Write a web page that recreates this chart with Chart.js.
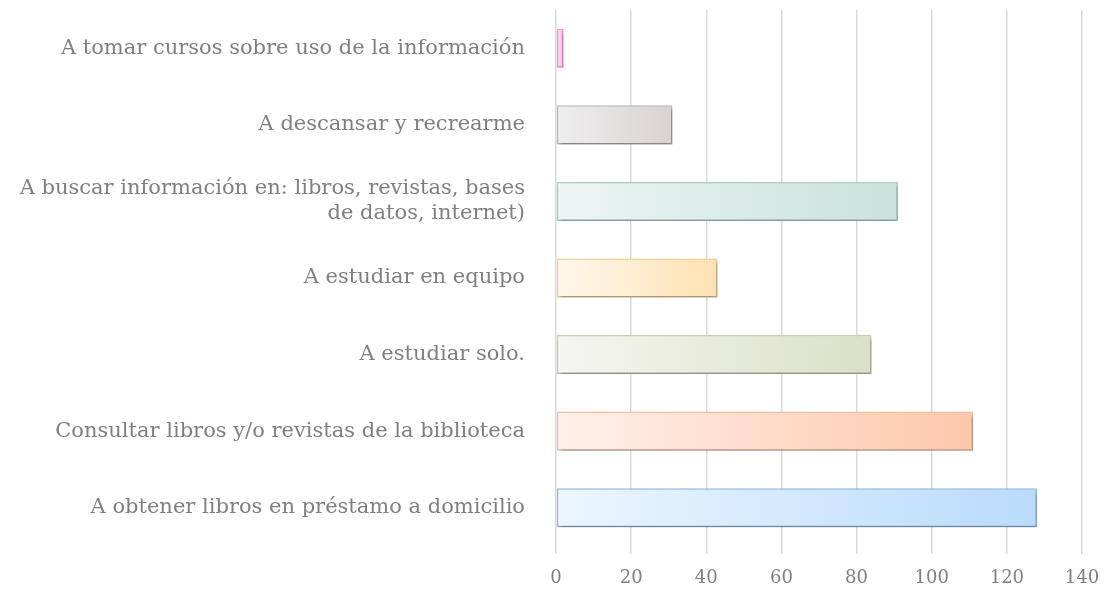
<!DOCTYPE html>
<html>
<head>
<meta charset="utf-8">
<script src="https://cdn.jsdelivr.net/npm/chart.js@4/dist/chart.umd.min.js"></script>
<style>
  html, body { margin: 0; padding: 0; background: #ffffff; overflow: hidden; }
  canvas { display: block; }
</style>
</head>
<body>
<canvas id="barChart" width="1105" height="589"></canvas>
<script>
// Chart data
const categories = [
  'A tomar cursos sobre uso de la información',
  'A descansar y recrearme',
  ['A buscar información en: libros, revistas, bases', 'de datos, internet)'],
  'A estudiar en equipo',
  'A estudiar solo.',
  'Consultar libros y/o revistas de la biblioteca',
  'A obtener libros en préstamo a domicilio'
];
const values = [2, 31, 91, 43, 84, 111, 128];
const xTicks = [0, 20, 40, 60, 80, 100, 120, 140];

// Bar colours (gradient start / end / outline)
const fillStart = ['#ffe0f6', '#efeeee', '#edf5f4', '#fff7ec', '#f5f6f0', '#fff0ea', '#ecf6ff'];
const fillEnd = ['#ffb8ea', '#d8d3d3', '#c9e2dc', '#fde2b2', '#dae0c6', '#fdc8ab', '#b9dbfb'];
const borderColors = ['#ff8fdc', '#bfb8b8', '#a8cfc6', '#f0d29c', '#c8d0b2', '#f6c2a5', '#90b9de'];

const FONT = '"DejaVu Serif", "Liberation Serif", serif';
const GREY = '#7f7f7f';

// soft drop shadow under the bars
const barShadow = {
  id: 'barShadow',
  beforeDatasetsDraw(chart) {
    const c = chart.ctx;
    c.save();
    c.shadowColor = 'rgba(0, 0, 0, 0.3)';
    c.shadowBlur = 4;
    c.shadowOffsetX = 2;
    c.shadowOffsetY = 3;
  },
  afterDatasetsDraw(chart) {
    chart.ctx.restore();
  }
};

function barGradient(context) {
  const chart = context.chart;
  const area = chart.chartArea;
  const i = context.dataIndex;
  if (!area || i === undefined) return fillEnd[i || 0];
  const end = chart.scales.x.getPixelForValue(values[i]);
  const g = chart.ctx.createLinearGradient(area.left, 0, Math.max(end, area.left + 1), 0);
  g.addColorStop(0, fillStart[i]);
  g.addColorStop(1, fillEnd[i]);
  return g;
}

const ctx = document.getElementById('barChart').getContext('2d');
const barChart = new Chart(ctx, {
  type: 'bar',
  data: {
    labels: categories,
    datasets: [
      {
        data: values,
        backgroundColor: barGradient,
        borderColor: borderColors,
        borderWidth: 1.5,
        borderSkipped: false,
        barPercentage: 0.51,
        categoryPercentage: 1.0,
      },
    ],
  },
  options: {
    indexAxis: 'y',
    responsive: false,
    maintainAspectRatio: false,
    animation: false,
    layout: {
      padding: { top: 10, right: 23, bottom: 0, left: 0 },
    },
    plugins: {
      legend: { display: false },
      tooltip: { enabled: false },
    },
    scales: {
      x: {
        min: 0,
        max: 140,
        afterBuildTicks: (scale) => {
          scale.ticks = xTicks.map(v => ({ value: v }));
        },
        grid: {
          color: '#d9d9d9',
          lineWidth: 1.5,
          tickLength: 8,
        },
        border: { display: false },
        ticks: {
          color: GREY,
          padding: 14,
          font: { family: FONT, size: 18 },
        },
        afterFit: (scale) => {
          scale.height = 43;
          scale.paddingLeft = 0;
          scale.paddingRight = 0;
        },
      },
      y: {
        grid: { display: false },
        border: { display: false },
        ticks: {
          color: GREY,
          padding: 23,
          font: { family: FONT, size: 21, lineHeight: 1.2 },
        },
        afterFit: (scale) => {
          scale.width = 556;
          scale.paddingTop = 0;
          scale.paddingBottom = 0;
        },
      },
    },
  },
  plugins: [barShadow],
});
</script>
</body>
</html>
